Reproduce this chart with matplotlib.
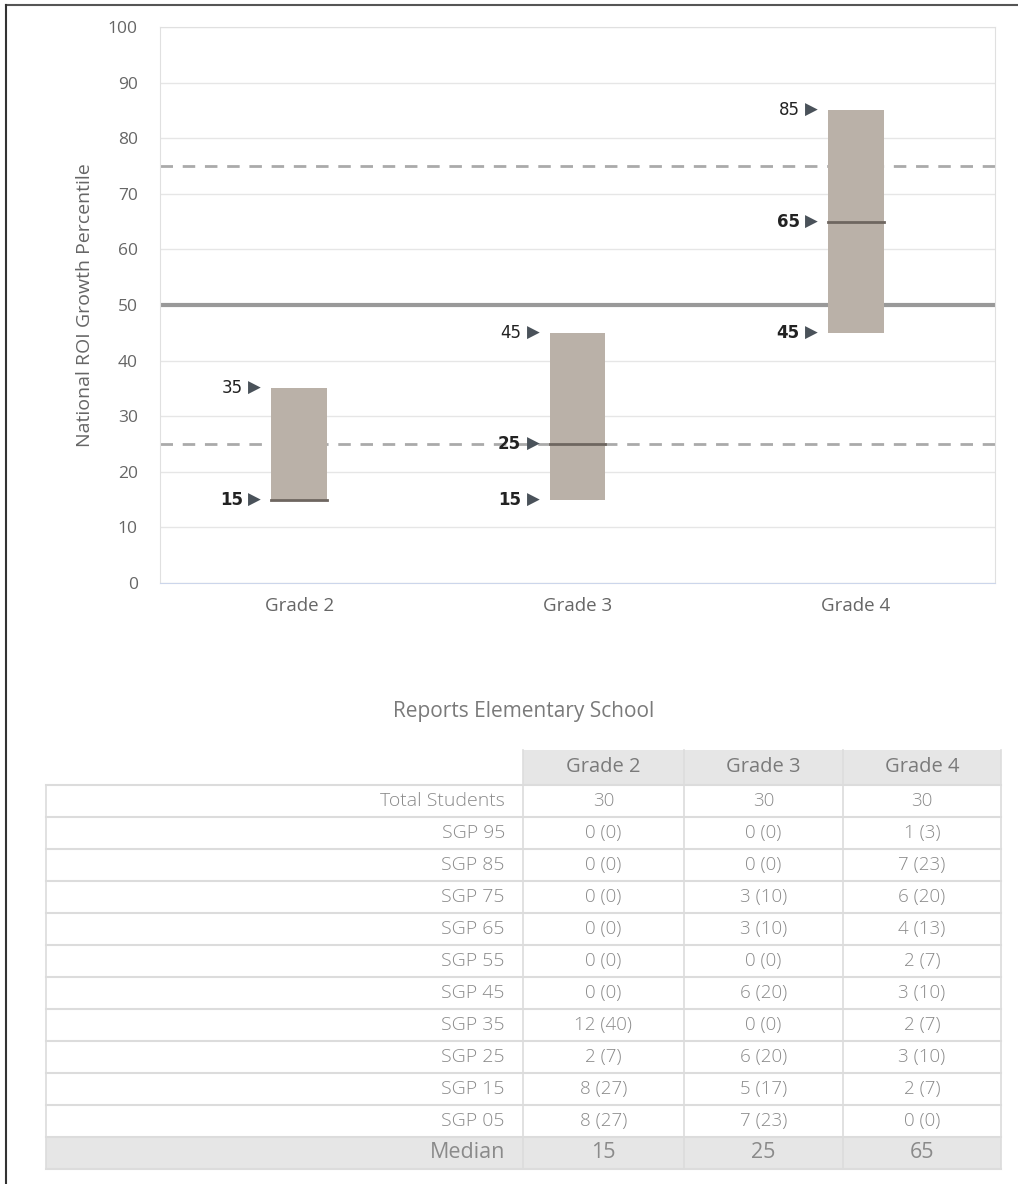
import matplotlib
matplotlib.use("Agg")
import matplotlib.pyplot as plt
from matplotlib.patches import Rectangle
from matplotlib.lines import Line2D

plt.rcParams['font.family'] = ['Open Sans', 'DejaVu Sans']

grades = ["Grade 2", "Grade 3", "Grade 4"]
low = [15, 15, 45]
high = [35, 45, 85]
median = [15, 25, 65]

row_labels = ["Total Students", "SGP 95", "SGP 85", "SGP 75", "SGP 65", "SGP 55",
              "SGP 45", "SGP 35", "SGP 25", "SGP 15", "SGP 05"]
grade2_cells = ["30", "0 (0)", "0 (0)", "0 (0)", "0 (0)", "0 (0)", "0 (0)", "12 (40)", "2 (7)", "8 (27)", "8 (27)"]
grade3_cells = ["30", "0 (0)", "0 (0)", "3 (10)", "3 (10)", "0 (0)", "6 (20)", "0 (0)", "6 (20)", "5 (17)", "7 (23)"]
grade4_cells = ["30", "1 (3)", "7 (23)", "6 (20)", "4 (13)", "2 (7)", "3 (10)", "2 (7)", "3 (10)", "2 (7)", "0 (0)"]
median_cells = ["15", "25", "65"]

W, H = 1018, 1184
fig = plt.figure(figsize=(W / 100, H / 100), dpi=100)

# ---- chart ----
ax = fig.add_axes([160 / W, 1 - 583 / H, 835 / W, 556 / H])
x = list(range(len(grades)))
ax.set_xlim(-0.5, len(grades) - 0.5)
ax.set_ylim(0, 100)
ax.set_yticks(range(0, 101, 10))
ax.set_xticks(x)
ax.set_xticklabels(grades, fontsize=13.5, color="#666666")
ax.tick_params(axis="y", labelsize=12.5, labelcolor="#666666", length=0, pad=16)
ax.tick_params(axis="x", length=0, pad=10)
ax.grid(axis="y", color="#e6e6e6", linewidth=1)
ax.set_axisbelow(True)
for s in ["left", "right", "top"]:
    ax.spines[s].set_color("#e0e0e0")
ax.spines["bottom"].set_color("#ccd6eb")
ax.set_ylabel("National ROI Growth Percentile", fontsize=14, color="#666666", labelpad=10)

ax.axhline(25, color="#aaaaaa", linewidth=2, dashes=(4.5, 3.5), zorder=1)
ax.axhline(75, color="#aaaaaa", linewidth=2, dashes=(4.5, 3.5), zorder=1)
ax.axhline(50, color="#999999", linewidth=3, zorder=1)

bw = 0.2
ax.bar(x, [h - l for h, l in zip(high, low)], bottom=low, width=bw, color="#bab1a8", zorder=3)
for i in x:
    ax.plot([i - bw / 2, i + bw / 2], [median[i], median[i]], color="#6e6660", linewidth=2, zorder=4)
    vals = [high[i], median[i], low[i]]
    weights = ["normal", "bold", "bold"]
    seen = set()
    for v, wgt in zip(vals, weights):
        if v in seen:
            continue
        seen.add(v)
        ax.annotate("\u25B6", (i - bw / 2, v), xytext=(-16.5, 0), textcoords="offset points",
                    ha="left", va="center", fontsize=12, color="#4a525a", family="DejaVu Sans")
        ax.annotate(str(v), (i - bw / 2, v), xytext=(-20.5, 0), textcoords="offset points",
                    ha="right", va="center", fontsize=12, color="#222222", fontweight=wgt,
                    family="DejaVu Sans")

# ---- table ----
tb = fig.add_axes([0, 0, 1, 1])
tb.set_xlim(0, W)
tb.set_ylim(H, 0)
tb.axis("off")

tb.text(524, 712, "Reports Elementary School", ha="center", va="center", fontsize=15, color="#7a7a7a")

col_edges = [46, 523, 684, 843, 1001]
row_h = 32
header_top, header_bot = 750, 785
body_top = header_bot
line_c = "#dcdcdc"
cell_c = "#8a8a8a"

# header
tb.add_patch(Rectangle((col_edges[1], header_top), col_edges[4] - col_edges[1], header_bot - header_top,
                       facecolor="#e6e6e6", edgecolor="none"))
for j, g in enumerate(grades):
    cx = (col_edges[j + 1] + col_edges[j + 2]) / 2
    tb.text(cx, (header_top + header_bot) / 2, g, ha="center", va="center", fontsize=14.5, color="#7a7a7a")

columns = [grade2_cells, grade3_cells, grade4_cells]
n = len(row_labels)
for r, lab in enumerate(row_labels):
    cy = body_top + r * row_h + row_h / 2
    tb.text(col_edges[1] - 18, cy, lab, ha="right", va="center", fontsize=14, color=cell_c,
            fontweight="light")
    for j, col in enumerate(columns):
        cx = (col_edges[j + 1] + col_edges[j + 2]) / 2
        tb.text(cx, cy, col[r], ha="center", va="center", fontsize=13.5, color=cell_c,
                fontweight="light")

# median row
med_top = body_top + n * row_h
tb.add_patch(Rectangle((col_edges[0], med_top), col_edges[4] - col_edges[0], row_h,
                       facecolor="#e6e6e6", edgecolor="none"))
tb.text(col_edges[1] - 18, med_top + row_h / 2, "Median", ha="right", va="center", fontsize=15.5,
        color=cell_c)
for j, v in enumerate(median_cells):
    cx = (col_edges[j + 1] + col_edges[j + 2]) / 2
    tb.text(cx, med_top + row_h / 2, v, ha="center", va="center", fontsize=15.5, color=cell_c)

# grid lines
for r in range(n + 2):
    yy = body_top + r * row_h
    tb.add_line(Line2D([col_edges[0], col_edges[4]], [yy, yy], color=line_c, linewidth=1.5))
for xx in col_edges:
    tb.add_line(Line2D([xx, xx], [body_top, med_top + row_h], color=line_c, linewidth=1.2))
for xx in col_edges[1:]:
    tb.add_line(Line2D([xx, xx], [header_top, header_bot], color="#dddddd", linewidth=1.2))

# page border (top and left)
tb.add_line(Line2D([6, W], [5, 5], color="#555555", linewidth=1.5))
tb.add_line(Line2D([6, 6], [5, H], color="#333333", linewidth=1.5))

fig.savefig("out.png", dpi=100)
